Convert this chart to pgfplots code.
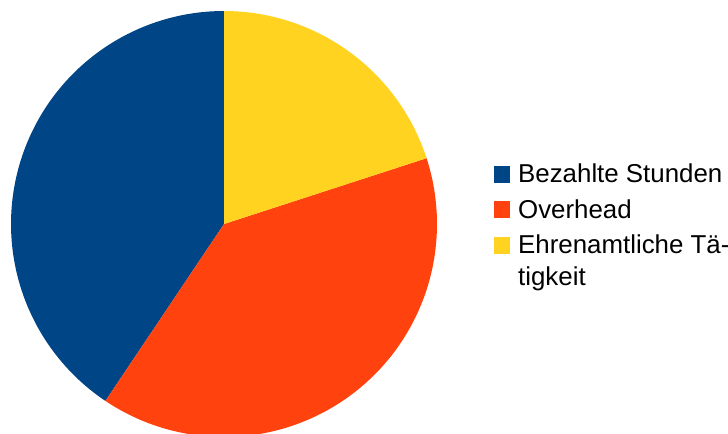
\documentclass[border=0pt]{standalone}
\usepackage{pgfplots}
\pgfplotsset{compat=1.18}
\usepackage{fontspec}
\setmainfont{Liberation Sans}
\definecolor{cBlue}{HTML}{004586}
\definecolor{cOrange}{HTML}{FF420E}
\definecolor{cYellow}{HTML}{FFD320}
% slice values in percent
\def\vA{40.6}% Bezahlte Stunden
\def\vB{39.4}% Overhead
\def\vC{20.0}% Ehrenamtliche Taetigkeit
\pgfmathsetmacro\aS{90}
\pgfmathsetmacro\aA{\aS+3.6*\vA}
\pgfmathsetmacro\aB{\aA+3.6*\vB}
\pgfmathsetmacro\aC{\aB+3.6*\vC}
\begin{document}
\begin{tikzpicture}
\useasboundingbox (0pt,0pt) rectangle (546pt,-325.5pt);
\begin{axis}[
  at={(168pt,-168pt)}, anchor=center,
  scale only axis, width=319.5pt, height=319.5pt,
  xmin=-1, xmax=1, ymin=-1, ymax=1,
  hide axis,
  legend style={at={(1.132,0.648)}, anchor=north west, draw=none, fill=none,
    font=\fontsize{19.4}{20.3}\selectfont, row sep=7pt,
    cells={anchor=base west}, inner sep=0pt},
  legend image code/.code={\fill[#1] (0pt,0pt) rectangle (12.5pt,12.5pt); \path (16.5pt,0pt);},
]
\addplot[fill=cBlue, draw=none, domain=\aS:\aA, samples=120, variable=\t]
  ({cos(\t)},{sin(\t)}) -- (axis cs:0,0) -- cycle;
\addlegendentry{Bezahlte Stunden}
\addplot[fill=cOrange, draw=none, domain=\aA:\aB, samples=120, variable=\t]
  ({cos(\t)},{sin(\t)}) -- (axis cs:0,0) -- cycle;
\addlegendentry{Overhead}
\addplot[fill=cYellow, draw=none, domain=\aB:\aC, samples=80, variable=\t]
  ({cos(\t)},{sin(\t)}) -- (axis cs:0,0) -- cycle;
\addlegendentry{\begin{tabular}[t]{@{}l@{}}Ehrenamtliche Tä-\\[3.5pt]tigkeit\end{tabular}}
\end{axis}
\end{tikzpicture}
\end{document}
